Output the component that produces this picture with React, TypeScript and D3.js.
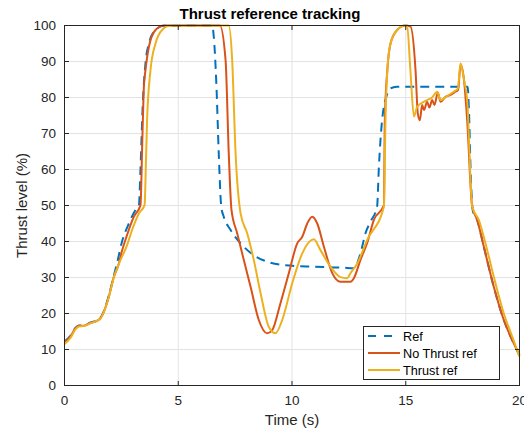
import React from "react";
import * as d3 from "d3";

const xTicks = [0, 5, 10, 15, 20];
const yTicks = [0, 10, 20, 30, 40, 50, 60, 70, 80, 90, 100];

const refT = [0, 0.26, 0.48, 0.63, 0.85, 1.14, 1.44, 1.58, 1.73, 1.95, 2.17, 2.31, 2.53, 2.83, 3.12, 3.27, 3.34, 3.44, 3.56, 3.71, 4.0, 4.37, 6.49, 6.56, 6.68, 6.78, 6.89, 7.0, 7.3, 7.74, 8.32, 8.91, 9.93, 10.96, 12.28, 12.72, 13.01, 13.23, 13.45, 13.74, 13.82, 13.96, 14.11, 14.33, 14.6, 17.72, 17.78, 17.85, 17.95, 18.14, 18.43, 18.87, 19.31, 19.68, 20];
const refV = [12.3, 13.8, 16.0, 16.7, 16.7, 17.5, 18.1, 18.8, 20.6, 25.0, 30.5, 34, 40, 45, 48.75, 50, 60, 78, 89.5, 95, 98.75, 99.9, 100, 97, 83, 64.5, 49.7, 46.9, 43.2, 39.5, 36.2, 34.4, 33.3, 33, 32.7, 32.6, 36.7, 42.3, 45.5, 49.7, 60.8, 73.7, 79.3, 82.5, 83, 83, 76, 60, 48.5, 46, 38.6, 27.4, 18.2, 12.6, 8.3];

const noT = [0, 0.26, 0.48, 0.63, 0.85, 1.14, 1.44, 1.58, 1.73, 1.95, 2.17, 2.39, 2.46, 2.75, 3.05, 3.34, 3.42, 3.49, 3.56, 3.71, 4.0, 4.37, 6.83, 7.08, 7.22, 7.34, 7.59, 7.88, 8.18, 8.54, 8.91, 9.13, 9.49, 9.86, 10.23, 10.45, 10.67, 10.89, 11.11, 11.4, 11.77, 12.13, 12.57, 12.72, 13.01, 13.3, 13.6, 14.04, 14.08, 14.19, 14.33, 14.62, 14.99, 15.21, 15.43, 15.53, 15.62, 15.72, 15.8, 15.94, 16.04, 16.16, 16.26, 16.41, 16.53, 16.75, 16.97, 17.18, 17.3, 17.41, 17.56, 17.7, 17.92, 18.14, 18.43, 18.87, 19.31, 19.68, 20];
const noV = [12, 13.6, 15.9, 16.6, 16.6, 17.4, 18, 18.7, 20.5, 24.7, 30.2, 33.9, 35.8, 41.8, 46.9, 50.1, 68, 83, 87.6, 94.1, 98.75, 100, 100, 90.4, 64.5, 48.75, 42.3, 34.9, 27.4, 18.2, 14.5, 15.4, 22.8, 31.2, 39.5, 41.3, 45, 46.9, 45, 38.6, 31.2, 28.8, 28.8, 29.8, 34.9, 39.5, 46, 50.1, 73.7, 87.6, 95, 98.75, 100, 99.7, 87.6, 75.6, 73.7, 77.9, 76.5, 78.8, 77.2, 79.3, 77.9, 81.3, 78.8, 80.2, 80.7, 81.6, 82.1, 89.1, 84.9, 73.7, 49.7, 46, 38.6, 27.4, 18.2, 12.6, 8.5];

const thT = [0, 0.26, 0.48, 0.63, 0.85, 1.14, 1.44, 1.58, 1.73, 1.95, 2.17, 2.39, 2.75, 2.97, 3.27, 3.52, 3.58, 3.63, 3.78, 4.0, 4.29, 4.66, 7.22, 7.37, 7.52, 7.74, 8.03, 8.32, 8.62, 8.98, 9.27, 9.57, 10.01, 10.45, 10.96, 11.25, 11.69, 12.13, 12.43, 12.57, 12.87, 13.3, 14.04, 14.11, 14.19, 14.33, 14.62, 14.95, 15.06, 15.2, 15.36, 15.5, 15.94, 16.16, 16.38, 16.53, 16.82, 17.11, 17.29, 17.41, 17.56, 17.7, 17.92, 18.21, 18.58, 18.87, 19.31, 19.68, 20];
const thV = [11.5, 13.2, 15.6, 16.4, 16.5, 17.3, 18, 18.6, 20.4, 24.6, 30.1, 33.8, 39, 43.2, 47.8, 50.1, 62, 73.7, 87.6, 95, 98.75, 100, 100, 90.4, 64.5, 47.8, 42.3, 34.9, 25.6, 16.3, 14.5, 18.2, 28.4, 36.7, 40.6, 37.6, 33, 30.1, 29.8, 31.2, 33.9, 40.4, 49.7, 73.7, 87.6, 95, 98.75, 100, 100, 88, 74.7, 77.4, 79.3, 80, 81.6, 79.3, 80.4, 81.6, 82.5, 89.5, 84.9, 79.3, 49.7, 46, 37.6, 30.2, 20, 13.6, 8];

const seriesNames = ["Ref", "No Thrust ref", "Thrust ref"];
const seriesColors = ["#0072BD", "#D95319", "#EDB120"];

const FONT = "'Liberation Sans', Arial, Helvetica, sans-serif";
const TXT = "#262626";

export default function App() {
  const W = 524, H = 430;
  const x = d3.scaleLinear().domain([0, 20]).range([64.5, 519.5]);
  const y = d3.scaleLinear().domain([0, 100]).range([385.5, 25.5]);
  const line = d3
    .line<[number, number]>()
    .x((d) => x(d[0]))
    .y((d) => y(d[1]))
    .curve(d3.curveMonotoneX);
  const zip = (a: number[], b: number[]) => a.map((t, i) => [t, b[i]] as [number, number]);
  const series = [zip(refT, refV), zip(noT, noV), zip(thT, thV)];
  const [x0, x1] = x.range();
  const [y0, y1] = y.range();
  const tl = 4.5;

  const legX = 363.5, legY = 326.5, legW = 136, legH = 53;
  const rowY = [336, 353, 370];

  return (
    <svg width={W} height={H} style={{ position: "absolute", left: 0, top: 0, background: "#fff" }} fontFamily={FONT}>
      <rect x={0} y={0} width={W} height={H} fill="#fff" />
      {/* grid */}
      {xTicks.map((t) => (
        <line key={"gx" + t} x1={x(t)} x2={x(t)} y1={y1} y2={y0} stroke="#e3e3e3" strokeWidth={1} />
      ))}
      {yTicks.map((t) => (
        <line key={"gy" + t} x1={x0} x2={x1} y1={y(t)} y2={y(t)} stroke="#e3e3e3" strokeWidth={1} />
      ))}
      {/* data */}
      {series.map((s, i) => (
        <path
          key={"s" + i}
          d={line(s) || ""}
          fill="none"
          stroke={seriesColors[i]}
          strokeWidth={2}
          strokeDasharray={i === 0 ? "9,6" : undefined}
          strokeLinejoin="round"
        />
      ))}
      {/* box */}
      <rect x={x0} y={y1} width={x1 - x0} height={y0 - y1} fill="none" stroke={TXT} strokeWidth={1} />
      {/* ticks */}
      {xTicks.map((t) => (
        <g key={"tx" + t}>
          <line x1={x(t)} x2={x(t)} y1={y0} y2={y0 - tl} stroke={TXT} />
          <line x1={x(t)} x2={x(t)} y1={y1} y2={y1 + tl} stroke={TXT} />
          <text x={x(t)} y={405} textAnchor="middle" fontSize={13.5} fill={TXT}>
            {t}
          </text>
        </g>
      ))}
      {yTicks.map((t) => (
        <g key={"ty" + t}>
          <line x1={x0} x2={x0 + tl} y1={y(t)} y2={y(t)} stroke={TXT} />
          <line x1={x1} x2={x1 - tl} y1={y(t)} y2={y(t)} stroke={TXT} />
          <text x={56} y={y(t) + 4.8} textAnchor="end" fontSize={13.5} fill={TXT}>
            {t}
          </text>
        </g>
      ))}
      {/* labels */}
      <text x={270} y={18.5} textAnchor="middle" fontSize={15} fontWeight="bold" fill="#000">
        Thrust reference tracking
      </text>
      <text x={(x0 + x1) / 2} y={424.5} textAnchor="middle" fontSize={15} fill={TXT}>
        Time (s)
      </text>
      <text transform={`translate(27, ${(y0 + y1) / 2}) rotate(-90)`} textAnchor="middle" fontSize={15} fill={TXT}>
        Thrust level (%)
      </text>
      {/* legend */}
      <rect x={legX} y={legY} width={legW} height={legH} fill="#fff" stroke={TXT} strokeWidth={1} />
      {seriesNames.map((n, i) => (
        <g key={"l" + i}>
          <line
            x1={368}
            x2={400}
            y1={rowY[i]}
            y2={rowY[i]}
            stroke={seriesColors[i]}
            strokeWidth={2}
            strokeDasharray={i === 0 ? "8,8" : undefined}
          />
          <text x={403} y={rowY[i] + 4.5} fontSize={12.7} fill="#000">
            {n}
          </text>
        </g>
      ))}
    </svg>
  );
}
